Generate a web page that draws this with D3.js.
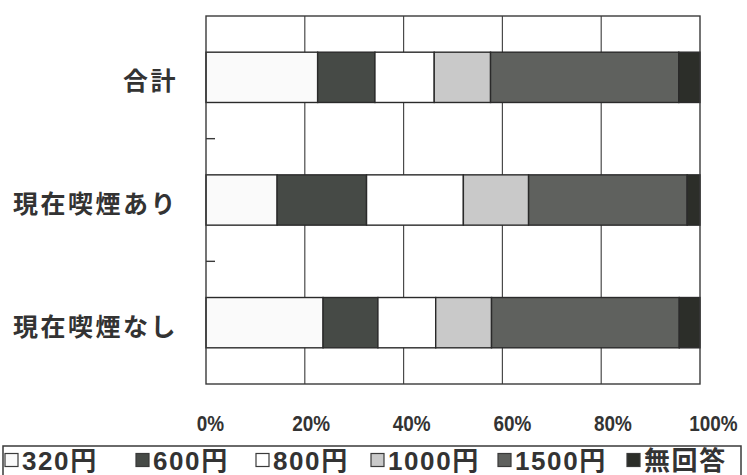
<!DOCTYPE html>
<html>
<head>
<meta charset="utf-8">
<script src="https://cdn.jsdelivr.net/npm/d3@7"></script>
<style>
  html, body { margin: 0; padding: 0; background: #fff; }
  svg { display: block; }
</style>
</head>
<body>
<svg id="chart" width="747" height="475"></svg>
<script>
// Categories (top to bottom)
const categories = ["合計", "現在喫煙あり", "現在喫煙なし"];
// Price answers, in stacking order
const seriesNames = ["320円", "600円", "800円", "1000円", "1500円", "無回答"];
// Percentage shares per category, one array per series
const v320  = [22.6, 14.4, 23.7];
const v600  = [11.6, 18.1, 11.1];
const v800  = [12.0, 19.6, 11.7];
const v1000 = [11.4, 13.2, 11.3];
const v1500 = [38.1, 32.1, 38.0];
const vNone = [4.3, 2.6, 4.2];
const tickValues = [0, 20, 40, 60, 80, 100];
const tickLabels = ["0%", "20%", "40%", "60%", "80%", "100%"];

const seriesValues = [v320, v600, v800, v1000, v1500, vNone];
const fills = ["#fafafa", "#464a46", "#ffffff", "#c9c9c9", "#5f615e", "#2c2e29"];

const rows = categories.map((c, i) => {
  const r = { cat: c };
  seriesNames.forEach((s, j) => { r[s] = seriesValues[j][i]; });
  return r;
});
const stacked = d3.stack().keys(seriesNames)(rows);

const svg = d3.select("#chart");
const plotL = 206, plotR = 700, plotT = 16, plotB = 384;

const x = d3.scaleLinear().domain([0, 100]).range([plotL, plotR]);
const y = d3.scaleBand().domain(categories).range([plotT, plotB])
  .paddingInner(0.59).paddingOuter(0.295);
const step = y.step();

// Vertical gridlines
svg.append("g")
  .selectAll("line")
  .data(tickValues.slice(1, -1))
  .join("line")
  .attr("x1", d => x(d)).attr("x2", d => x(d))
  .attr("y1", plotT).attr("y2", plotB)
  .attr("stroke", "#4a4a4a").attr("stroke-width", 1.2);

// Stacked bars
svg.append("g")
  .selectAll("g")
  .data(stacked)
  .join("g")
  .attr("fill", (d, i) => fills[i])
  .selectAll("rect")
  .data(d => d)
  .join("rect")
  .attr("x", d => x(d[0]))
  .attr("width", d => x(d[1]) - x(d[0]))
  .attr("y", d => y(d.data.cat))
  .attr("height", y.bandwidth())
  .attr("stroke", "#2a2a2a")
  .attr("stroke-width", 1.4);

// Plot frame
svg.append("rect")
  .attr("x", plotL).attr("y", plotT)
  .attr("width", plotR - plotL).attr("height", plotB - plotT)
  .attr("fill", "none").attr("stroke", "#3a3a3a").attr("stroke-width", 1.4);

// Category axis: tick marks between categories, labels to the left
const boundaries = categories.slice(1).map(c => y(c) - step * y.paddingInner() / 2);
svg.append("g")
  .selectAll("line")
  .data(boundaries)
  .join("line")
  .attr("x1", plotL).attr("x2", plotL + 9)
  .attr("y1", d => d).attr("y2", d => d)
  .attr("stroke", "#3a3a3a").attr("stroke-width", 1.4);

svg.append("g")
  .selectAll("text")
  .data(categories)
  .join("text")
  .attr("x", 178)
  .attr("y", d => y(d) + y.bandwidth() / 2 + 2)
  .attr("text-anchor", "end")
  .attr("dominant-baseline", "central")
  .attr("font-family", "'Noto Sans CJK JP', sans-serif")
  .attr("font-weight", "bold")
  .attr("font-size", 25)
  .attr("letter-spacing", 2.5)
  .attr("fill", "#333")
  .text(d => d);

// Percentage axis labels (slightly condensed lettering)
const labelScale = x.copy().range([plotL + 4, plotR + 13]);
const xAxis = d3.axisBottom(labelScale)
  .tickValues(tickValues)
  .tickFormat((d, i) => tickLabels[i])
  .tickSize(0);
const gx = svg.append("g")
  .attr("transform", "translate(0,412)")
  .call(xAxis);
gx.select(".domain").remove();
gx.selectAll("text")
  .attr("font-family", "'Liberation Sans', Arial, sans-serif")
  .attr("font-weight", "bold")
  .attr("font-size", 22)
  .attr("transform", "scale(0.86,1)")
  .attr("fill", "#333");

// Legend
const legend = svg.append("g");
legend.append("rect")
  .attr("x", 3).attr("y", 446).attr("width", 738).attr("height", 40)
  .attr("fill", "#fff").attr("stroke", "#3a3a3a").attr("stroke-width", 1.5);
const legendX = [5, 136, 256, 371, 498, 627];
const items = legend.selectAll("g.item")
  .data(seriesNames)
  .join("g")
  .attr("class", "item")
  .attr("transform", (d, i) => `translate(${legendX[i]},460)`);
items.append("rect")
  .attr("x", 0).attr("y", -6.5).attr("width", 13).attr("height", 13)
  .attr("fill", (d, i) => fills[i])
  .attr("stroke", "#3a3a3a").attr("stroke-width", 1.2);
items.append("text")
  .attr("x", 17).attr("y", 1)
  .attr("dominant-baseline", "central")
  .attr("font-family", "'Liberation Sans', 'Noto Sans CJK JP', sans-serif")
  .attr("font-weight", "bold")
  .attr("font-size", 26)
  .attr("letter-spacing", 1.6)
  .attr("fill", "#333")
  .text(d => d);
</script>
</body>
</html>
